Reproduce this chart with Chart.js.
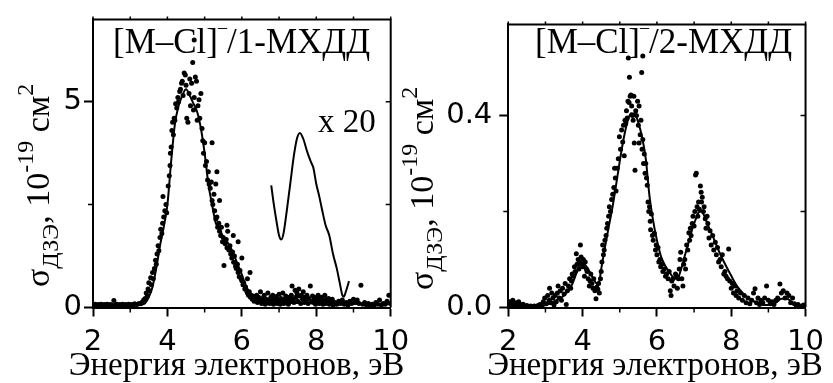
<!DOCTYPE html>
<html>
<head>
<meta charset="utf-8">
<script src="https://cdn.jsdelivr.net/npm/chart.js@4.4.0/dist/chart.umd.min.js"></script>
<style>
  html, body { margin: 0; padding: 0; background: #fff; }
  #wrap { position: relative; width: 833px; height: 383px; overflow: hidden; }
  canvas { position: absolute; top: 0; }
  #c1 { left: 0; }
  #c2 { left: 390px; }
</style>
</head>
<body>
<div id="wrap">
  <canvas id="c1" width="420" height="383"></canvas>
  <canvas id="c2" width="443" height="383"></canvas>
</div>
<script>
"use strict";

// ---- left panel: [M-Cl]- / 1-MXДД ----
const leftDots = [
  [2.02,0.06],[2.06,0.08],[2.1,0.05],[2.14,0.07],[2.18,0.06],[2.22,0.08],[2.26,0.05],[2.3,0.07],[2.34,0.06],[2.38,0.08],
  [2.42,0.05],[2.46,0.07],[2.5,0.06],[2.56,0.17],[2.6,0.06],[2.64,0.08],[2.68,0.05],[2.72,0.07],[2.76,0.06],[2.8,0.08],
  [2.84,0.05],[2.88,0.07],[2.92,0.06],[2.96,0.08],[3.0,0.05],[3.04,0.07],[3.08,0.06],[3.12,0.09],[3.16,0.07],[3.2,0.08],
  [3.24,0.1],[3.28,0.09],[3.32,0.13],[3.36,0.18],[3.4,0.22],[3.43,0.35],[3.46,0.28],[3.48,0.45],[3.5,0.6],[3.52,0.4],
  [3.55,0.72],[3.57,0.55],[3.6,0.85],[3.62,0.7],[3.65,0.95],[3.68,1.15],[3.7,1.05],[3.72,1.3],[3.75,1.5],[3.77,1.38],
  [3.8,1.7],[3.82,1.9],[3.85,1.8],[3.87,2.05],[3.88,2.7],[3.9,2.2],[3.93,2.35],[3.96,2.5],[3.98,2.3],[4.02,2.95],
  [4.05,3.2],[4.07,3.45],[4.08,3.75],[4.1,3.9],[4.12,4.3],[4.14,4.5],[4.16,4.2],[4.18,4.6],[4.2,4.55],[4.22,4.95],
  [4.25,4.85],[4.28,5.1],[4.3,5.0],[4.33,5.25],[4.35,5.3],[4.38,5.45],[4.4,5.5],[4.42,5.15],[4.45,5.7],[4.48,5.65],
  [4.5,5.4],[4.52,4.6],[4.55,4.5],[4.58,5.2],[4.6,5.55],[4.62,4.9],[4.65,5.45],[4.68,5.95],[4.72,6.5],[4.7,4.8],
  [4.72,5.1],[4.75,5.6],[4.78,5.5],[4.8,4.55],[4.82,4.9],[4.85,5.05],[4.87,4.6],[4.9,5.2],[4.93,4.35],[4.95,4.05],
  [4.97,3.75],[5.0,4.0],[5.02,3.45],[5.05,3.55],[5.08,3.1],[5.1,3.3],[5.12,3.0],[5.15,2.9],[5.18,3.05],[5.2,4.0],
  [5.2,2.6],[5.22,2.5],[5.25,2.75],[5.27,2.35],[5.3,3.0],[5.3,2.15],[5.33,3.3],[5.33,2.2],[5.35,1.95],[5.38,2.05],
  [5.4,1.85],[5.4,2.6],[5.43,1.75],[5.45,1.95],[5.48,1.6],[5.5,1.7],[5.52,1.02],[5.55,1.55],[5.58,1.65],[5.6,1.45],
  [5.6,2.0],[5.62,1.85],[5.65,1.4],[5.68,1.5],[5.7,1.3],[5.73,1.2],[5.75,1.35],[5.77,1.75],[5.78,1.1],[5.8,1.25],
  [5.83,1.0],[5.85,0.95],[5.88,1.05],[5.9,0.85],[5.9,1.6],[5.93,0.75],[5.95,0.9],[5.98,0.7],[6.0,0.65],[6.0,1.2],
  [6.03,0.55],[6.05,0.6],[6.08,0.45],[6.1,0.5],[6.13,0.4],[6.15,0.7],[6.15,0.35],[6.18,0.3],[6.2,0.38],[6.22,0.85],
  [6.23,0.25],[6.25,0.3],[6.28,0.2],[6.3,0.28],[6.33,0.15],[6.35,0.22],[6.4,0.3],[6.42,0.12],[6.45,0.25],[6.48,0.18],
  [6.5,0.38],[6.53,0.1],[6.55,0.22],[6.58,0.15],[6.6,0.3],[6.63,0.08],[6.65,0.2],[6.68,0.12],[6.7,0.35],[6.73,0.18],
  [6.75,0.1],[6.78,0.25],[6.8,0.15],[6.83,0.3],[6.85,0.08],[6.88,0.2],[6.9,0.12],[6.93,0.27],[6.95,0.1],[6.98,0.18],
  [7.0,0.32],[7.03,0.08],[7.05,0.22],[7.08,0.14],[7.1,0.35],[7.13,0.1],[7.15,0.2],[7.18,0.28],[7.2,0.12],[7.23,0.18],
  [7.25,0.08],[7.28,0.25],[7.3,0.15],[7.33,0.3],[7.35,0.52],[7.38,0.2],[7.4,0.12],[7.43,0.42],[7.45,0.25],[7.48,0.35],
  [7.5,0.15],[7.53,0.45],[7.55,0.28],[7.58,0.1],[7.6,0.3],[7.63,0.2],[7.65,0.38],[7.68,0.12],[7.7,0.25],[7.73,0.18],
  [7.75,0.3],[7.78,0.1],[7.8,0.22],[7.84,0.52],[7.88,0.15],[7.9,0.28],[7.93,0.12],[7.95,0.2],[7.98,0.08],[8.0,0.25],
  [8.03,0.15],[8.05,0.3],[8.08,0.1],[8.1,0.2],[8.13,0.12],[8.15,0.25],[8.18,0.08],[8.2,0.18],[8.23,0.3],[8.25,0.1],
  [8.28,0.2],[8.3,0.12],[8.33,0.22],[8.35,0.08],[8.38,0.15],[8.4,0.1],[8.43,0.2],[8.45,0.06],[8.5,0.12],[8.55,0.08],
  [8.6,0.15],[8.65,0.1],[8.7,0.18],[8.75,0.08],[8.8,0.12],[8.85,0.06],[8.9,0.15],[8.95,0.1],[9.0,0.2],[9.05,0.12],
  [9.1,0.18],[9.15,0.1],[9.2,0.54],[9.25,0.08],[9.3,0.12],[9.35,0.06],[9.4,0.1],[9.45,0.05],[9.5,0.08],[9.55,0.06],
  [9.6,0.12],[9.65,0.08],[9.7,0.18],[9.75,0.06],[9.8,0.1],[9.85,0.08],[9.9,0.15],[9.95,0.3],[10.0,0.1]
];
const leftFitX = [2, 2.5, 3, 3.3, 3.4, 3.5, 3.6, 3.7, 3.8, 3.9, 4.0, 4.1, 4.2, 4.3, 4.4, 4.5, 4.6, 4.7, 4.8, 4.9,
  5.0, 5.1, 5.2, 5.3, 5.4, 5.5, 5.6, 5.7, 5.8, 5.9, 6.0, 6.1, 6.2, 6.3, 6.4, 6.5, 6.7, 7, 7.5, 8, 8.5, 9, 9.5, 10];
const leftFitY = [0.06, 0.06, 0.06, 0.07, 0.1, 0.25, 0.5, 0.95, 1.5, 1.95, 2.5, 3.55, 4.45, 4.9, 5.15, 5.3, 5.15, 4.95, 4.75, 4.35,
  3.75, 3.0, 2.5, 2.05, 1.9, 1.72, 1.6, 1.45, 1.25, 1.02, 0.8, 0.55, 0.38, 0.27, 0.2, 0.16, 0.12, 0.11, 0.11, 0.1, 0.09, 0.09, 0.08, 0.08];
// the "x 20" magnified tail
const zoomX = [6.79, 6.86, 6.93, 7.0, 7.06, 7.12, 7.2, 7.3, 7.4, 7.48, 7.56, 7.65, 7.75, 7.85, 7.92, 8.0, 8.08, 8.15, 8.25, 8.35,
  8.45, 8.55, 8.63, 8.7, 8.74, 8.8, 8.88];
const zoomY = [2.97, 2.5, 2.1, 1.75, 1.65, 1.8, 2.3, 3.0, 3.7, 4.1, 4.24, 4.1, 3.8, 3.55, 3.4, 3.0, 2.7, 2.4, 2.0, 1.75,
  1.3, 0.95, 0.6, 0.3, 0.26, 0.4, 0.64];

// ---- right panel: [M-Cl]- / 2-MXДД ----
const rightDots = [
  [2.04,0.012],[2.08,0.006],[2.12,0.015],[2.16,0.008],[2.2,0.01],[2.24,0.004],[2.28,0.012],[2.32,0.006],[2.36,0.003],[2.4,0.007],
  [2.45,0.002],[2.5,0.004],[2.55,0.002],[2.6,0.003],[2.65,0.001],[2.7,0.003],[2.75,0.002],[2.8,0.004],[2.85,0.006],[2.9,0.003],
  [2.94,0.012],[2.98,0.02],[3.02,0.008],[3.06,0.025],[3.1,0.015],[3.11,0.04],[3.14,0.01],[3.17,0.03],[3.2,0.02],[3.23,0.005],
  [3.26,0.025],[3.29,0.012],[3.32,0.03],[3.34,0.045],[3.37,0.02],[3.4,0.035],[3.43,0.015],[3.46,0.04],[3.5,0.028],[3.53,0.05],
  [3.56,0.006],[3.59,0.035],[3.62,0.045],[3.65,0.06],[3.68,0.04],[3.7,0.055],[3.72,0.07],[3.75,0.065],[3.78,0.085],[3.8,0.075],
  [3.83,0.112],[3.85,0.09],[3.88,0.1],[3.9,0.08],[3.92,0.095],[3.94,0.13],[3.96,0.105],[3.98,0.09],[4.0,0.085],[4.02,0.1],
  [4.05,0.065],[4.07,0.095],[4.1,0.08],[4.12,0.075],[4.15,0.06],[4.18,0.045],[4.2,0.055],[4.22,0.07],[4.25,0.05],[4.28,0.04],
  [4.3,0.06],[4.33,0.035],[4.36,0.018],[4.38,0.042],[4.41,0.038],[4.43,0.05],[4.45,0.03],[4.48,0.06],[4.5,0.075],[4.52,0.095],
  [4.54,0.13],[4.56,0.11],[4.58,0.12],[4.6,0.14],[4.63,0.15],[4.65,0.165],[4.67,0.175],[4.7,0.19],[4.72,0.21],[4.75,0.2],
  [4.78,0.225],[4.81,0.236],[4.84,0.25],[4.86,0.29],[4.88,0.27],[4.9,0.243],[4.93,0.29],[4.96,0.31],[4.99,0.356],[5.02,0.33],
  [5.05,0.37],[5.08,0.345],[5.1,0.38],[5.12,0.316],[5.14,0.39],[5.16,0.383],[5.18,0.41],[5.2,0.395],[5.22,0.43],[5.23,0.52],
  [5.25,0.427],[5.26,0.48],[5.28,0.44],[5.3,0.443],[5.32,0.42],[5.34,0.4],[5.36,0.39],[5.38,0.44],[5.39,0.343],[5.41,0.286],
  [5.43,0.41],[5.45,0.4],[5.48,0.43],[5.5,0.38],[5.52,0.343],[5.52,0.42],[5.55,0.36],[5.57,0.39],[5.59,0.49],[5.62,0.524],
  [5.6,0.33],[5.62,0.35],[5.64,0.3],[5.66,0.32],[5.68,0.28],[5.7,0.3],[5.72,0.27],[5.74,0.255],[5.76,0.22],[5.78,0.2],
  [5.8,0.21],[5.82,0.18],[5.83,0.162],[5.85,0.195],[5.88,0.15],[5.9,0.14],[5.93,0.155],[5.96,0.12],[5.98,0.13],[6.0,0.11],
  [6.03,0.125],[6.05,0.095],[6.08,0.1],[6.1,0.085],[6.13,0.09],[6.16,0.075],[6.2,0.08],[6.23,0.065],[6.26,0.07],[6.3,0.06],
  [6.33,0.075],[6.36,0.035],[6.38,0.025],[6.4,0.055],[6.43,0.06],[6.46,0.045],[6.5,0.07],[6.53,0.065],[6.55,0.04],[6.58,0.06],
  [6.6,0.08],[6.62,0.1],[6.64,0.115],[6.67,0.06],[6.7,0.045],[6.72,0.09],[6.75,0.1],[6.77,0.08],[6.8,0.13],[6.83,0.12],
  [6.86,0.156],[6.88,0.14],[6.9,0.165],[6.92,0.15],[6.95,0.175],[6.97,0.19],[7.0,0.17],[7.02,0.2],[7.04,0.276],[7.06,0.28],
  [7.08,0.21],[7.1,0.19],[7.12,0.22],[7.14,0.205],[7.17,0.253],[7.19,0.24],[7.2,0.22],[7.22,0.23],[7.25,0.2],[7.27,0.21],
  [7.3,0.185],[7.32,0.165],[7.35,0.19],[7.37,0.175],[7.4,0.145],[7.43,0.16],[7.46,0.13],[7.5,0.15],[7.53,0.12],[7.57,0.136],
  [7.6,0.11],[7.63,0.125],[7.66,0.095],[7.7,0.1],[7.73,0.085],[7.76,0.11],[7.8,0.07],[7.83,0.075],[7.86,0.065],[7.9,0.06],
  [7.93,0.122],[7.96,0.055],[8.0,0.04],[8.03,0.05],[8.06,0.03],[8.1,0.045],[8.13,0.025],[8.16,0.035],[8.2,0.02],[8.25,0.03],
  [8.3,0.015],[8.35,0.025],[8.4,0.01],[8.45,0.02],[8.5,0.008],[8.55,0.015],[8.6,0.03],[8.64,0.039],[8.68,0.01],[8.72,0.02],
  [8.76,0.006],[8.8,0.015],[8.85,0.01],[8.9,0.02],[8.95,0.045],[9.0,0.015],[9.05,0.008],[9.1,0.012],[9.15,0.006],[9.2,0.015],
  [9.25,0.02],[9.31,0.049],[9.35,0.03],[9.4,0.035],[9.45,0.02],[9.5,0.03],[9.55,0.025],[9.6,0.01],[9.65,0.02],[9.7,0.008],
  [9.75,0.004],[9.8,0.006],[9.9,0.003],[9.95,0.005]
];
const rightFitX = [2, 2.5, 2.9, 3.1, 3.3, 3.5, 3.7, 3.85, 3.95, 4.05, 4.15, 4.25, 4.35, 4.43, 4.5, 4.6, 4.7, 4.8, 4.9, 5.0,
  5.1, 5.2, 5.3, 5.4, 5.5, 5.6, 5.7, 5.8, 5.9, 6.0, 6.1, 6.2, 6.3, 6.45, 6.55, 6.65, 6.75, 6.85, 6.95, 7.05,
  7.13, 7.2, 7.28, 7.35, 7.45, 7.55, 7.7, 7.85, 8.0, 8.15, 8.3, 8.45, 8.6, 8.75, 8.9, 9.05, 9.2, 9.35, 9.5, 9.65, 9.8, 10];
const rightFitY = [0.003, 0.002, 0.003, 0.008, 0.015, 0.025, 0.045, 0.075, 0.092, 0.09, 0.08, 0.065, 0.052, 0.048, 0.08, 0.125, 0.167, 0.207, 0.255, 0.305,
  0.35, 0.385, 0.405, 0.404, 0.385, 0.355, 0.31, 0.232, 0.18, 0.14, 0.109, 0.09, 0.078, 0.062, 0.06, 0.08, 0.108, 0.135, 0.163, 0.185,
  0.199, 0.2, 0.19, 0.176, 0.158, 0.14, 0.112, 0.088, 0.066, 0.045, 0.031, 0.02, 0.013, 0.008, 0.005, 0.006, 0.01, 0.018, 0.018, 0.01, 0.004, 0.002];

const xTicks = [2, 4, 6, 8, 10];
const xMinor = [3, 5, 7, 9];

const SERIF = "'Liberation Serif', 'Times New Roman', serif";
const SANS = "'DejaVu Sans', sans-serif";
const yTitle = [
  { t: "σ", size: 34 },
  { t: "ДЗЭ", size: 24, dy: 9 },
  { t: ", 10", size: 34 },
  { t: "-19", size: 24, dy: -16 },
  { t: " см", size: 34 },
  { t: "2", size: 24, dy: -16 },
];
const xTitle = [{ t: "Энергия электронов, эВ", size: 33 }];

function richWidth(ctx, parts) {
  let w = 0;
  for (const p of parts) {
    ctx.font = p.size + "px " + SERIF;
    w += ctx.measureText(p.t).width;
  }
  return w;
}
function rich(ctx, parts, x, y) {
  let cx = x;
  for (const p of parts) {
    ctx.font = p.size + "px " + SERIF;
    ctx.fillText(p.t, cx, y + (p.dy || 0));
    cx += ctx.measureText(p.t).width;
  }
}

// frame, minor / mirror ticks and all the typeset labels
const decor = {
  id: "decor",
  afterDraw(chart, args, o) {
    const { ctx, chartArea: a } = chart;
    const sx = chart.scales.x, sy = chart.scales.y;
    ctx.save();
    ctx.strokeStyle = "#000";
    ctx.lineWidth = 2;
    ctx.beginPath();
    ctx.moveTo(a.left, a.top);
    ctx.lineTo(a.right, a.top);
    ctx.lineTo(a.right, a.bottom);
    ctx.stroke();

    ctx.lineWidth = 1.5;
    ctx.beginPath();
    for (const v of xMinor) {
      const p = sx.getPixelForValue(v);
      ctx.moveTo(p, a.bottom); ctx.lineTo(p, a.bottom + 5);
    }
    for (const v of xTicks.concat(xMinor)) {
      const p = sx.getPixelForValue(v);
      ctx.moveTo(p, a.top); ctx.lineTo(p, a.top - 3);
    }
    for (const v of o.yMinor) {
      const p = sy.getPixelForValue(v);
      ctx.moveTo(a.left, p); ctx.lineTo(a.left - 5, p);
    }
    for (const v of o.yMirror) {
      const p = sy.getPixelForValue(v);
      ctx.moveTo(a.right, p); ctx.lineTo(a.right - 5, p);
    }
    ctx.stroke();

    ctx.fillStyle = "#000";
    ctx.textBaseline = "alphabetic";
    ctx.textAlign = "left";
    // panel title
    rich(ctx, o.title, o.titleAt[0], o.titleAt[1]);
    if (o.note) rich(ctx, o.note, o.noteAt[0], o.noteAt[1]);
    // x title
    const w = richWidth(ctx, xTitle);
    rich(ctx, xTitle, o.xTitleAt[0] - w / 2, o.xTitleAt[1]);
    // y title, rotated
    ctx.translate(o.yTitleAt[0], o.yTitleAt[1]);
    ctx.rotate(-Math.PI / 2);
    rich(ctx, yTitle, 0, 0);
    ctx.restore();
  },
};

function axes(yMax, yStep, yLabel, yWidth, yPad) {
  return {
    x: {
      type: "linear", min: 2, max: 10,
      afterFit: (s) => { s.height = 75.5; },
      border: { display: true, color: "#000", width: 2 },
      grid: { display: true, drawOnChartArea: false, tickLength: 9, tickWidth: 2, tickColor: "#000" },
      ticks: { stepSize: 2, includeBounds: false, padding: 9, color: "#000", font: { family: SANS, size: 29 } },
    },
    y: {
      type: "linear", min: 0, max: yMax,
      afterFit: (s) => { s.width = yWidth; },
      border: { display: true, color: "#000", width: 2 },
      grid: { display: true, drawOnChartArea: false, tickLength: 9, tickWidth: 2, tickColor: "#000" },
      ticks: { stepSize: yStep, includeBounds: false, padding: yPad, color: "#000",
        font: { family: SANS, size: 29 }, callback: yLabel },
    },
  };
}

function datasets(dots, fitX, fitY, extra) {
  const list = [
    { data: fitX.map((v, i) => ({ x: v, y: fitY[i] })), showLine: true, borderColor: "#000", borderWidth: 2,
      pointRadius: 0, cubicInterpolationMode: "monotone", order: 0 },
    { data: dots.map((d) => ({ x: d[0], y: d[1] })), backgroundColor: "#000", borderWidth: 0,
      pointRadius: 2.5, order: 1 },
  ];
  if (extra) list.push(extra);
  return list;
}

new Chart(document.getElementById("c1"), {
  type: "scatter",
  data: {
    datasets: datasets(leftDots, leftFitX, leftFitY, {
      data: zoomX.map((v, i) => ({ x: v, y: zoomY[i] })), showLine: true, borderColor: "#000", borderWidth: 2,
      pointRadius: 0, cubicInterpolationMode: "monotone", order: 0,
    }),
  },
  options: {
    responsive: false, animation: false,
    layout: { padding: { left: 0, right: 29.3, top: 14, bottom: 0 } },
    scales: axes(7, 5, (v) => String(v), 93, 2),
    plugins: {
      legend: { display: false }, tooltip: { enabled: false },
      decor: {
        yMinor: [2.5], yMirror: [2.5, 5],
        title: [{ t: "[M–Cl]", size: 35 }, { t: "–", size: 18, dy: -20 }, { t: "/1-МХДД", size: 35 }],
        titleAt: [113, 53],
        note: [{ t: "x 20", size: 33 }], noteAt: [318, 132],
        xTitleAt: [236.5, 375],
        yTitleAt: [49, 287],
      },
    },
  },
  plugins: [decor],
});

new Chart(document.getElementById("c2"), {
  type: "scatter",
  data: { datasets: datasets(rightDots, rightFitX, rightFitY) },
  options: {
    responsive: false, animation: false,
    layout: { padding: { left: 0, right: 25.3, top: 14, bottom: 0 } },
    scales: axes(0.59, 0.4, (v) => v.toFixed(1), 118.3, 7),
    plugins: {
      legend: { display: false }, tooltip: { enabled: false },
      decor: {
        yMinor: [0.2], yMirror: [0.2, 0.4],
        title: [{ t: "[M–Cl]", size: 35 }, { t: "–", size: 18, dy: -20 }, { t: "/2-МХДД", size: 35 }],
        titleAt: [145, 53],
        xTitleAt: [265, 375],
        yTitleAt: [43, 290],
      },
    },
  },
  plugins: [decor],
});
</script>
</body>
</html>
